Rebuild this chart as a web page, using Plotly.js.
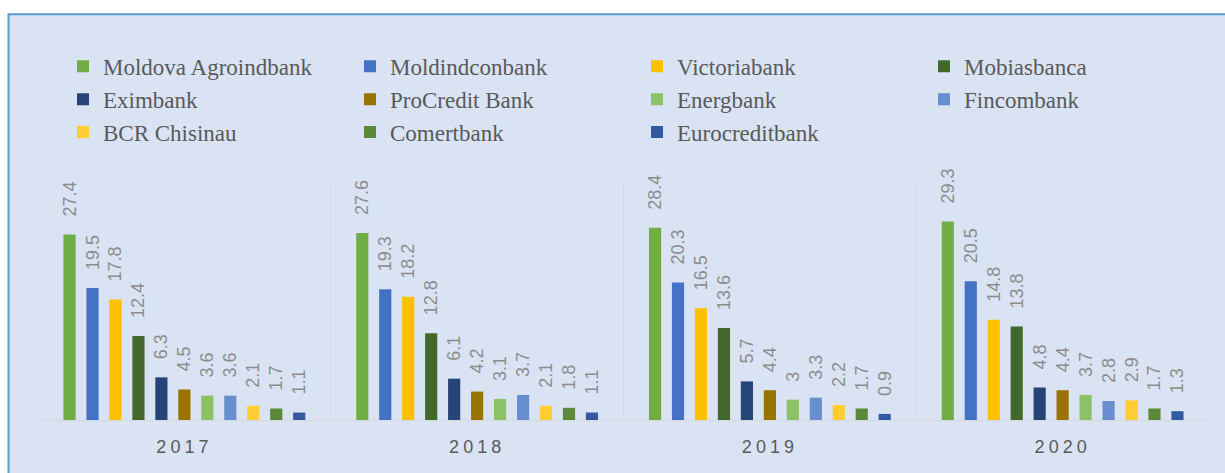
<!DOCTYPE html>
<html>
<head>
<meta charset="utf-8">
<script src="https://cdn.plot.ly/plotly-3.0.1.min.js"></script>
<style>
  html, body { margin: 0; padding: 0; background: #ffffff; }
  #chart { width: 1225px; height: 473px; }
  .xtick text { letter-spacing: 4px; }
</style>
</head>
<body>
<div id="chart"></div>
<script>
const years = ['2017', '2018', '2019', '2020'];
const banks = ['Moldova Agroindbank', 'Moldindconbank', 'Victoriabank', 'Mobiasbanca',
               'Eximbank', 'ProCredit Bank', 'Energbank', 'Fincombank',
               'BCR Chisinau', 'Comertbank', 'Eurocreditbank'];
const moldovaAgroindbank = [27.4, 27.6, 28.4, 29.3];
const moldindconbank     = [19.5, 19.3, 20.3, 20.5];
const victoriabank       = [17.8, 18.2, 16.5, 14.8];
const mobiasbanca        = [12.4, 12.8, 13.6, 13.8];
const eximbank           = [6.3, 6.1, 5.7, 4.8];
const procreditBank      = [4.5, 4.2, 4.4, 4.4];
const energbank          = [3.6, 3.1, 3, 3.7];
const fincombank         = [3.6, 3.7, 3.3, 2.8];
const bcrChisinau        = [2.1, 2.1, 2.2, 2.9];
const comertbank         = [1.7, 1.8, 1.7, 1.7];
const eurocreditbank     = [1.1, 1.1, 0.9, 1.3];

const seriesValues = [moldovaAgroindbank, moldindconbank, victoriabank, mobiasbanca,
  eximbank, procreditBank, energbank, fincombank, bcrChisinau, comertbank, eurocreditbank];
const colors = ['#70AD47', '#4472C4', '#FFC000', '#43682B', '#264478', '#997300',
                '#8CC168', '#698ED0', '#FFCD33', '#5A8A39', '#335AA1'];

const traces = banks.map((name, i) => ({
  type: 'bar',
  name: name,
  x: years,
  y: seriesValues[i],
  marker: { color: colors[i] },
  texttemplate: '\u00a0\u00a0\u00a0%{y}',
  textposition: 'outside',
  textangle: -90,
  constraintext: 'none',
  cliponaxis: false,
  textfont: { family: 'Liberation Sans, Arial, sans-serif', size: 18, color: '#8C8C8C' },
  hoverinfo: 'x+y+name'
}));

// pixel helpers for paper coords of frame
const L = 38, R = 16, T = 183, B = 52.5;
const W = 1225 - L - R, H = 473 - T - B;
const px = p => (p - L) / W;
const py = p => (473 - B - p) / H;

const layout = {
  width: 1225,
  height: 473,
  margin: { l: L, r: R, t: T, b: B, pad: 0 },
  paper_bgcolor: '#FFFFFF',
  plot_bgcolor: '#DAE3F3',
  barmode: 'group',
  bargap: 0.137,
  bargroupgap: 0.47,
  showlegend: true,
  legend: {
    orientation: 'h',
    x: px(63), xanchor: 'left',
    y: py(44.5), yanchor: 'top',
    entrywidth: 242,
    entrywidthmode: 'pixels',
    traceorder: 'normal',
    bgcolor: 'rgba(0,0,0,0)',
    font: { family: 'Liberation Serif, Times New Roman, serif', size: 23, color: '#595959' }
  },
  xaxis: {
    type: 'category',
    tickson: 'boundaries',
    showgrid: true,
    gridcolor: '#D9D9D9',
    gridwidth: 1,
    showline: true,
    linecolor: '#D9D9D9',
    linewidth: 1,
    ticks: '',
    ticklabelstandoff: 10,
    tickfont: { family: 'Liberation Sans, Arial, sans-serif', size: 18, color: '#595959' },
    zeroline: false,
    fixedrange: true
  },
  yaxis: {
    range: [0, 35],
    showgrid: false,
    showticklabels: false,
    zeroline: false,
    showline: false,
    ticks: '',
    fixedrange: true
  },
  shapes: [{
    type: 'rect', xref: 'paper', yref: 'paper', layer: 'below',
    x0: px(8.5), x1: px(1300), y0: py(520), y1: py(14),
    fillcolor: '#DAE3F3',
    line: { color: '#5B9BD5', width: 2 }
  }]
};

Plotly.newPlot('chart', traces, layout, { displayModeBar: false, staticPlot: true });
</script>
</body>
</html>
